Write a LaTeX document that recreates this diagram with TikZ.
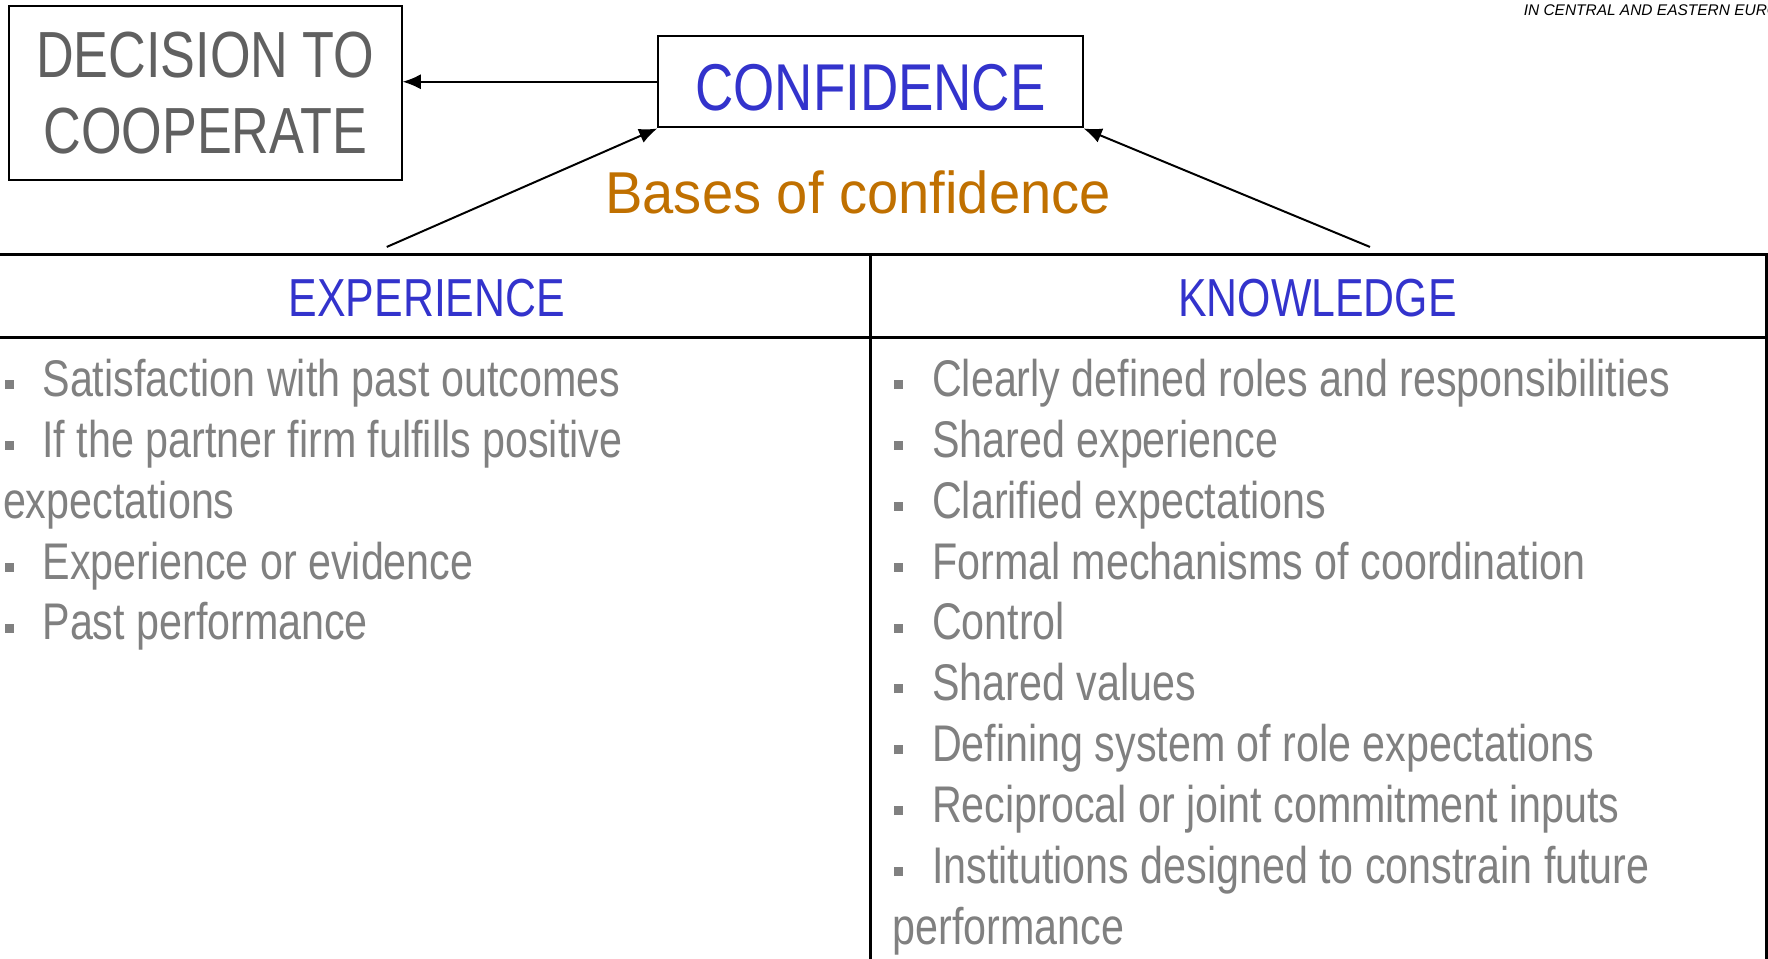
\documentclass[tikz,border=0pt]{standalone}
\usepackage{fontspec}
\setmainfont{Liberation Sans}
\newfontfamily\narrowfont[FakeStretch=0.8]{Liberation Sans}
\newfontfamily\basesfont[FakeStretch=0.95]{Liberation Sans}
\usetikzlibrary{arrows, arrows.meta, shapes, positioning}
\definecolor{confblue}{RGB}{51,51,204}
\definecolor{basesorange}{RGB}{192,112,0}
\definecolor{itemgray}{RGB}{128,128,128}
\definecolor{decgray}{RGB}{96,96,96}
\newcommand{\bul}{\makebox[0pt][r]{\textcolor{itemgray}{\rule[1.85pt]{2.28pt}{2.28pt}}\hspace{7.3pt}}}
\tikzset{
  framebox/.style={draw, line width=0.5pt, inner sep=0pt},
  head/.style={text=confblue, inner sep=0pt, font=\narrowfont\fontsize{13.5}{15}\selectfont},
  item/.style={anchor=base west, inner sep=0pt, text=itemgray, font=\narrowfont\fontsize{13}{15}\selectfont},
  tableline/.style={line width=0.75pt}
}

\begin{document}
\begin{tikzpicture}[x=0.01cm, y=-0.01cm, >={Latex[length=4.6pt,width=3.8pt]}]
	\useasboundingbox (0,0) rectangle (1568,850.5);
	\node[anchor=west, inner sep=0pt, font=\fontsize{3.9}{4}\selectfont\itshape] (region) at (1350.7,9) {IN CENTRAL AND EASTERN EUROPE};
	\node[framebox, minimum width=3.48cm, minimum height=1.55cm, align=center, text=decgray, font=\narrowfont\fontsize{16.45}{19.35}\selectfont] (decision) at (182,82.5) {DECISION TO\\COOPERATE};
	\node[framebox, minimum width=3.76cm, minimum height=0.81cm, text height=14.5pt, text depth=0pt, text=confblue, font=\narrowfont\fontsize{16.7}{18}\selectfont] (confidence) at (772,72.5) {CONFIDENCE};
	\node[text=basesorange, inner sep=0pt, font=\basesfont\fontsize{14.9}{16}\selectfont] (bases) at (761,171) {Bases of confidence};
	\coordinate (expTop) at (343,219);
	\coordinate (knwTop) at (1215,219);
	\draw[->, line width=0.5pt] (confidence.west) -- (confidence.west -| decision.east);
	\draw[->, line width=0.5pt] (expTop) -- (confidence.south west);
	\draw[->, line width=0.5pt] (knwTop) -- (confidence.south east);
	\draw[tableline] (0,225.5) -- (1567,225.5) -- (1567,850.5);
	\draw[tableline] (0,299) -- (1567,299);
	\draw[tableline] (771.6,225.5) -- (771.6,850.5);
	\node[head] (experience) at (378.6,264) {EXPERIENCE};
	\node[head] (knowledge) at (1168.5,264) {KNOWLEDGE};
	\foreach \x/\txt [count=\i from 0] in {37/\bul Satisfaction with past outcomes, 37/\bul If the partner firm fulfills positive, 2/expectations, 37/\bul Experience or evidence, 37/\bul Past performance}
		\node[item] (exp\i) at (\x,351.5+54*\i) {\txt};
	\foreach \x/\txt [count=\i from 0] in {826/\bul Clearly defined roles and responsibilities, 826/\bul Shared experience, 826/\bul Clarified expectations, 826/\bul Formal mechanisms of coordination, 826/\bul Control, 826/\bul Shared values, 826/\bul Defining system of role expectations, 826/\bul Reciprocal or joint commitment inputs, 826/\bul Institutions designed to constrain future, 791/performance}
		\node[item] (knw\i) at (\x,351.5+54*\i) {\txt};
\end{tikzpicture}
\end{document}
